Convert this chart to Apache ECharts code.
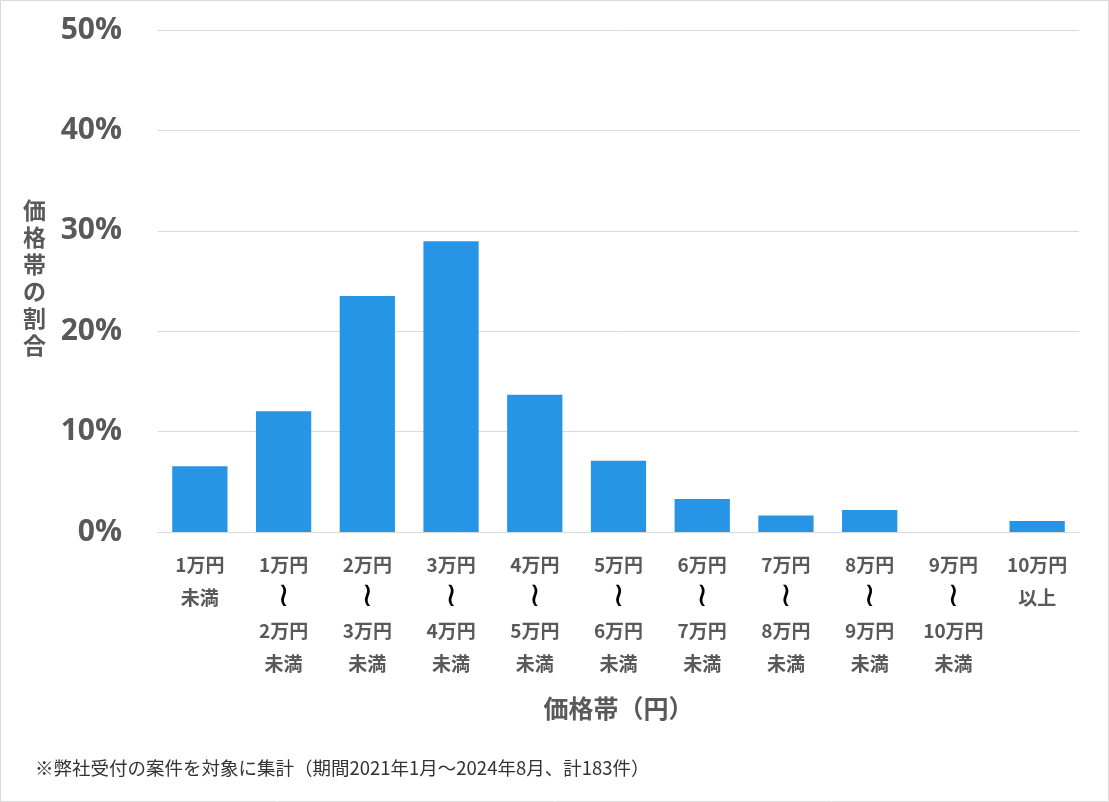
<!DOCTYPE html>
<html>
<head>
<meta charset="utf-8">
<script src="https://cdn.jsdelivr.net/npm/echarts@6/dist/echarts.min.js"></script>
<style>
html,body{margin:0;padding:0;background:#fff;}
#c{width:1109px;height:802px;}
</style>
</head>
<body>
<div id="c"></div>
<script>
var categories = ['1万円\n未満','1万円\n〜\n2万円\n未満','2万円\n〜\n3万円\n未満','3万円\n〜\n4万円\n未満','4万円\n〜\n5万円\n未満','5万円\n〜\n6万円\n未満','6万円\n〜\n7万円\n未満','7万円\n〜\n8万円\n未満','8万円\n〜\n9万円\n未満','9万円\n〜\n10万円\n未満','10万円\n以上'];
var shares = [6.56, 12.02, 23.50, 28.96, 13.66, 7.10, 3.28, 1.64, 2.19, 0, 1.09];
var yTicks = [0, 10, 20, 30, 40, 50];
var yTitle = '価格帯の割合';
var xTitle = '価格帯（円）';
var footnote = '※弊社受付の案件を対象に集計（期間2021年1月～2024年8月、計183件）';

var chart = echarts.init(document.getElementById('c'));
var jp = '"Noto Sans CJK JP", "Noto Sans", sans-serif';
chart.setOption({
  animation: false,
  grid: {left: 158, right: 30, top: 30, bottom: 270, containLabel: false},
  xAxis: {
    type: 'category',
    data: categories,
    axisLine: {lineStyle: {color: '#d9d9d9', width: 1}},
    axisTick: {show: false},
    axisLabel: {
      interval: 0,
      margin: 16,
      formatter: function (v) {
        return v.split('\n').map(function (s) {
          return s === '〜' ? '{w|≀}' : '{t|' + s + '}';
        }).join('\n');
      },
      rich: {
        t: {fontFamily: jp, fontWeight: 'bold', fontSize: 19, color: '#595959', lineHeight: 33},
        w: {fontFamily: '"DejaVu Sans", sans-serif', fontSize: 34, color: '#000000', lineHeight: 33}
      }
    },
    name: xTitle,
    nameLocation: 'middle',
    nameGap: 164,
    nameTextStyle: {fontFamily: jp, fontWeight: 'bold', fontSize: 25, color: '#595959'}
  },
  yAxis: {
    type: 'value',
    min: yTicks[0],
    max: yTicks[yTicks.length - 1],
    interval: 10,
    axisLine: {show: false},
    axisTick: {show: false},
    splitLine: {lineStyle: {color: '#d9d9d9', width: 1}},
    axisLabel: {
      margin: 36,
      formatter: '{value}%',
      fontFamily: '"Open Sans", "Noto Sans", sans-serif',
      fontWeight: 'bold',
      fontSize: 30,
      color: '#595959'
    }
  },
  series: [{
    type: 'bar',
    data: shares,
    barWidth: '66%',
    itemStyle: {color: '#2695e6'}
  }],
  graphic: [
    {type: 'rect', shape: {x: 0.5, y: 0.5, width: 1108, height: 801}, style: {fill: 'none', stroke: '#d9d9d9', lineWidth: 1}, silent: true},
    {type: 'text', left: 23, top: 197, style: {text: yTitle.split('').join('\n'), fontFamily: jp, fontWeight: 'bold', fontSize: 23, lineHeight: 27, fill: '#595959', align: 'center'}},
    {type: 'text', left: 35, top: 759, style: {text: footnote, fontFamily: jp, fontSize: 18.5, fill: '#333333'}}
  ]
});
</script>
</body>
</html>
